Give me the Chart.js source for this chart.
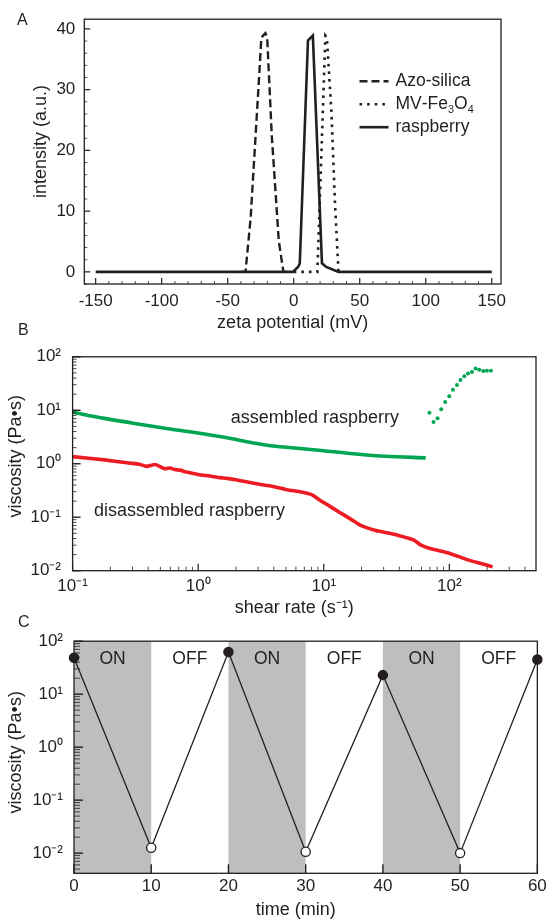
<!DOCTYPE html>
<html>
<head>
<meta charset="utf-8">
<script src="https://cdn.jsdelivr.net/npm/chart.js@4"></script>
<style>
  body { margin: 0; background: #fff; }
  #fig { position: relative; width: 550px; height: 919px; font-family: 'Liberation Sans', Arial, sans-serif; color: #231f20; }
  #fig canvas { position: absolute; left: 0; }
  .letter { position: absolute; font-size: 16px; line-height: 16px; }
</style>
</head>
<body>
<div id="fig">
  <canvas id="chartA" width="550" height="335" style="top:0px"></canvas>
  <canvas id="chartB" width="550" height="285" style="top:335px"></canvas>
  <canvas id="chartC" width="550" height="299" style="top:620px"></canvas>
  <div class="letter" style="left:17px;top:12px">A</div>
  <div class="letter" style="left:18px;top:322px">B</div>
  <div class="letter" style="left:18px;top:614px">C</div>
</div>
<script>
// panel A - zeta potential distributions
const zetaTicks = [-150, -100, -50, 0, 50, 100, 150];
const intensityTicks = [0, 10, 20, 30, 40];
const seriesNamesA = ['Azo-silica', 'MV-Fe3O4', 'raspberry'];
const azoZeta = [-40, -36.5, -32.6, -25.9, -24.5, -21.4, -20.1, -16.6, -11.3, -7.8, -5];
const azoIntensity = [0, 0, 8.9, 33.2, 38.6, 39.3, 38.6, 22.4, 5.1, 0, 0];
const mvZeta = [0, 17.9, 20.6, 24.0, 25.1, 28.6, 31.2, 33.9, 36];
const mvIntensity = [0, 0, 17.0, 38.9, 38.6, 26.2, 11.6, 0, 0];
const raspZeta = [-150, -0.7, 3.3, 4.6, 10.8, 14.5, 21.4, 24.6, 33.9, 150];
const raspIntensity = [0, 0, 0.8, 1.4, 38.1, 38.9, 1.4, 0.8, 0, 0];

// panel B - flow curves
const shearTicks = [0.1, 1, 10, 100];
const shearTickLabels = ['10⁻¹', '10⁰', '10¹', '10²'];
const viscTicks = [0.01, 0.1, 1, 10, 100];
const viscTickLabels = ['10⁻²', '10⁻¹', '10⁰', '10¹', '10²'];
const assembledRate = [0.1, 0.179, 0.341, 0.649, 1.0, 1.706, 2.68, 3.94, 6.19, 10.0, 16.3, 31.0, 64.9];
const assembledVisc = [9.2, 7.06, 5.49, 4.33, 3.77, 3.05, 2.48, 2.15, 1.95, 1.75, 1.56, 1.38, 1.29];
const assembledHighRate = [69.5, 74.8, 80.5, 86.1, 92.7, 99.8, 106.9, 115.0, 122.8, 131.5, 140.7, 151.4, 161.8, 173.0, 186.2, 199.4, 214.4];
const assembledHighVisc = [9.01, 6.04, 7.13, 10.5, 14.3, 18.3, 24.2, 29.8, 36.7, 43.4, 48.6, 52.0, 60.6, 57.4, 54.2, 55.1, 55.1];
const disassembledRate = [0.1, 0.179, 0.281, 0.34, 0.388, 0.456, 0.536, 0.6, 0.649, 0.72, 0.788, 1.0, 1.237, 1.5, 1.706, 2.0, 2.355, 3.25, 3.94, 5.1, 6.6, 8.01, 9.11, 11.05, 13.4, 16.3, 19.7, 25.5, 31.0, 40.1, 51.9, 59.0, 71.5, 98.7, 136.2, 188, 221];
const disassembledVisc = [1.36, 1.18, 1.03, 0.98, 0.895, 0.97, 0.811, 0.83, 0.778, 0.76, 0.705, 0.631, 0.589, 0.55, 0.533, 0.5, 0.464, 0.404, 0.377, 0.327, 0.297, 0.265, 0.215, 0.163, 0.123, 0.0933, 0.0705, 0.0573, 0.0519, 0.0452, 0.0377, 0.0305, 0.0258, 0.0215, 0.0163, 0.0132, 0.0118];

// panel C - switching cycles
const cycleTime = [0, 10, 20, 30, 40, 50, 60];
const cycleVisc = [48.6, 0.0126, 62.4, 0.0106, 22.9, 0.0100, 45.3];
const timeTicks = [0, 10, 20, 30, 40, 50, 60];
const onPeriods = [[0, 10], [20, 30], [40, 50]];
const phaseCentres = [5, 15, 25, 35, 45, 55];
const phaseLabels = ['ON', 'OFF', 'ON', 'OFF', 'ON', 'OFF'];

const TEXT = '#231f20';
const FONT = "'Liberation Sans', Arial, sans-serif";
const GREEN = '#00a651';
const RED = '#ed1c24';

Chart.defaults.font.family = FONT;
Chart.defaults.font.size = 17;
Chart.defaults.color = TEXT;
Chart.defaults.animation = false;

function points(xs, ys) { return xs.map((x, i) => ({ x: x, y: ys[i] })); }
function fixedBox(size) {
  return function (scale) {
    if (scale.isHorizontal()) scale.height = size; else scale.width = size;
  };
}
function useTicks(values) {
  return function (scale) { scale.ticks = values.map(v => ({ value: v })); };
}
function logMinors(from, to) {
  const out = [];
  for (let d = from; d <= to; d++) for (let m = 2; m <= 9; m++) out.push(m * Math.pow(10, d));
  return out;
}
function steps(a, b, step, skip) {
  const out = [];
  for (let v = a; v <= b; v += step) if (v % skip !== 0) out.push(v);
  return out;
}
// the titles in the figure sit a little off-centre; spaces nudge them
function axisTitle(text, pad) {
  return { display: true, text: text, color: TEXT, font: { size: 18, lineHeight: 1 }, padding: pad };
}

const framePlugin = {
  id: 'frame',
  afterDatasetsDraw(chart) {
    const { ctx, chartArea: a } = chart;
    ctx.save();
    ctx.strokeStyle = TEXT;
    ctx.lineWidth = 1.3;
    ctx.strokeRect(a.left, a.top, a.right - a.left, a.bottom - a.top);
    ctx.restore();
  }
};

const innerTicks = {
  id: 'innerTicks',
  afterDatasetsDraw(chart, args, opts) {
    const { ctx, chartArea: a, scales } = chart;
    ctx.save();
    ctx.strokeStyle = TEXT;
    (opts.marks || []).forEach(m => {
      const s = scales[m.axis];
      ctx.lineWidth = m.width;
      m.values.forEach(v => {
        const p = s.getPixelForValue(v);
        ctx.beginPath();
        if (m.axis === 'x') {
          if (p < a.left || p > a.right) return;
          ctx.moveTo(p, a.bottom); ctx.lineTo(p, a.bottom - m.len);
        } else {
          if (p < a.top || p > a.bottom) return;
          ctx.moveTo(a.left, p); ctx.lineTo(a.left + m.len, p);
        }
        ctx.stroke();
      });
    });
    ctx.restore();
  }
};

const textMarks = {
  id: 'textMarks',
  afterDatasetsDraw(chart, args, opts) {
    const { ctx, chartArea: a, scales } = chart;
    ctx.save();
    ctx.fillStyle = TEXT;
    ctx.textAlign = 'center';
    ctx.textBaseline = 'middle';
    ctx.font = opts.size + 'px ' + FONT;
    (opts.items || []).forEach(t => {
      const x = scales.x.getPixelForValue(t.x);
      const y = t.y !== undefined ? scales.y.getPixelForValue(t.y) : a.top + t.dy;
      ctx.fillText(t.text, x, y);
    });
    ctx.restore();
  }
};

// draws text where digits become subscripts (Fe3O4)
function drawChem(ctx, text, x, y, size) {
  ctx.textAlign = 'left';
  ctx.textBaseline = 'middle';
  for (const ch of text) {
    const sub = /[0-9]/.test(ch);
    ctx.font = (sub ? size * 0.62 : size) + 'px ' + FONT;
    ctx.fillText(ch, x, sub ? y + size * 0.32 : y);
    x += ctx.measureText(ch).width;
  }
}

const zetaLegend = {
  id: 'zetaLegend',
  afterDatasetsDraw(chart) {
    const { ctx, chartArea: a } = chart;
    ctx.save();
    ctx.fillStyle = TEXT;
    chart.data.datasets.forEach((ds, i) => {
      const y = a.top + 62 + i * 23;
      ctx.strokeStyle = ds.borderColor;
      ctx.lineWidth = ds.borderWidth;
      ctx.setLineDash(ds.borderDash || []);
      ctx.beginPath();
      ctx.moveTo(a.right - 141.5, y);
      ctx.lineTo(a.right - 112.5, y);
      ctx.stroke();
      drawChem(ctx, ds.label, a.right - 105.5, y, 17.5);
    });
    ctx.restore();
  }
};

const bands = {
  id: 'bands',
  beforeDatasetsDraw(chart) {
    const { ctx, chartArea: a, scales } = chart;
    ctx.save();
    ctx.fillStyle = '#bcbec0';
    onPeriods.forEach(([t0, t1]) => {
      const x0 = scales.x.getPixelForValue(t0);
      const x1 = scales.x.getPixelForValue(t1);
      ctx.fillRect(x0, a.top, x1 - x0, a.bottom - a.top);
    });
    ctx.restore();
  }
};

const common = {
  responsive: false,
  events: [],
  plugins: { legend: { display: false }, tooltip: { enabled: false } }
};

// ---- A ----
new Chart(document.getElementById('chartA'), {
  type: 'line',
  data: {
    datasets: [
      { label: seriesNamesA[0], data: points(azoZeta, azoIntensity), borderColor: TEXT, borderWidth: 2.4, borderDash: [8, 4], pointRadius: 0, tension: 0 },
      { label: seriesNamesA[1], data: points(mvZeta, mvIntensity), borderColor: TEXT, borderWidth: 2.6, borderDash: [2.6, 5], pointRadius: 0, tension: 0 },
      { label: seriesNamesA[2], data: points(raspZeta, raspIntensity), borderColor: TEXT, borderWidth: 2.6, pointRadius: 0, tension: 0 }
    ]
  },
  options: Object.assign({}, common, {
    layout: { padding: { left: 0, right: 49, top: 15, bottom: 0 } },
    scales: {
      x: {
        type: 'linear', min: -158.6, max: 157,
        afterBuildTicks: useTicks(zetaTicks), afterFit: fixedBox(51),
        grid: { display: false, drawTicks: false }, border: { display: false },
        ticks: { padding: 6.8 },
        title: axisTitle('zeta potential (mV)', { top: 0, bottom: 3 })
      },
      y: {
        type: 'linear', min: -2, max: 41.6,
        afterBuildTicks: useTicks(intensityTicks), afterFit: fixedBox(84.3),
        grid: { display: false, drawTicks: false }, border: { display: false },
        ticks: { padding: 9 },
        title: axisTitle('    intensity (a.u.)', { top: 32.4, bottom: 0 })
      }
    },
    plugins: Object.assign({}, common.plugins, {
      innerTicks: { marks: [
        { axis: 'x', values: zetaTicks, len: 6, width: 1.2 },
        { axis: 'x', values: steps(-150, 150, 10, 50), len: 3, width: 0.8 },
        { axis: 'y', values: intensityTicks, len: 6, width: 1.2 },
        { axis: 'y', values: steps(-2, 40, 2, 10), len: 3, width: 0.8 }
      ] }
    })
  }),
  plugins: [innerTicks, framePlugin, zetaLegend]
});

// ---- B ----
new Chart(document.getElementById('chartB'), {
  type: 'line',
  data: {
    datasets: [
      { label: 'assembled raspberry', data: points(assembledRate, assembledVisc), borderColor: GREEN, borderWidth: 3.6, pointRadius: 0, tension: 0.3 },
      { label: 'assembled raspberry (high shear)', data: points(assembledHighRate, assembledHighVisc), showLine: false, pointRadius: 2, pointBorderWidth: 0, pointBackgroundColor: GREEN, borderColor: GREEN },
      { label: 'disassembled raspberry', data: points(disassembledRate, disassembledVisc), borderColor: RED, borderWidth: 3.6, pointRadius: 0, tension: 0.2 }
    ]
  },
  options: Object.assign({}, common, {
    layout: { padding: { left: 0, right: 14, top: 15, bottom: 0 } },
    scales: {
      x: {
        type: 'logarithmic', min: 0.1, max: 490,
        afterBuildTicks: useTicks(shearTicks), afterFit: fixedBox(49.3),
        grid: { display: false, drawTicks: false }, border: { display: false },
        ticks: { padding: 5.8, callback: (v, i) => shearTickLabels[i] },
        title: axisTitle('shear rate (s⁻¹)    ', { top: 0, bottom: 3.3 })
      },
      y: {
        type: 'logarithmic', min: 0.01, max: 100,
        afterBuildTicks: useTicks(viscTicks), afterFit: fixedBox(72.6),
        grid: { display: false, drawTicks: false }, border: { display: false },
        ticks: { padding: 11.6, callback: (v, i) => viscTickLabels[i] },
        title: axisTitle('   viscosity (Pa•s)', { top: 6.8, bottom: 0 })
      }
    },
    plugins: Object.assign({}, common.plugins, {
      innerTicks: { marks: [
        { axis: 'x', values: shearTicks, len: 7, width: 1.2 },
        { axis: 'x', values: logMinors(-1, 2), len: 4, width: 0.8 },
        { axis: 'y', values: viscTicks, len: 8, width: 1.4 },
        { axis: 'y', values: logMinors(-2, 1), len: 4, width: 0.8 }
      ] },
      textMarks: { size: 18, items: [
        { text: 'assembled raspberry', x: 8.5, y: 7.2 },
        { text: 'disassembled raspberry', x: 0.854, y: 0.13 }
      ] }
    })
  }),
  plugins: [innerTicks, framePlugin, textMarks]
});

// ---- C ----
new Chart(document.getElementById('chartC'), {
  type: 'line',
  data: {
    datasets: [{
      label: 'viscosity',
      data: points(cycleTime, cycleVisc),
      borderColor: TEXT, borderWidth: 1.3, tension: 0,
      pointRadius: 4.6, pointBorderWidth: 1.3, pointBorderColor: TEXT,
      pointBackgroundColor: ctx => (ctx.dataIndex % 2 ? '#ffffff' : TEXT)
    }]
  },
  options: Object.assign({}, common, {
    clip: false,
    layout: { padding: { left: 0, right: 11.7, top: 11.7, bottom: 0 } },
    scales: {
      x: {
        type: 'linear', min: 0, max: 60,
        afterBuildTicks: useTicks(timeTicks), afterFit: fixedBox(45.7),
        grid: { display: false, drawTicks: false }, border: { display: false },
        ticks: { padding: 3.2 },
        title: axisTitle('time (min)    ', { top: 0, bottom: 0 })
      },
      y: {
        type: 'logarithmic', min: 0.00416, max: 100,
        afterBuildTicks: useTicks(viscTicks), afterFit: fixedBox(74),
        grid: { display: false, drawTicks: false }, border: { display: false },
        ticks: { padding: 11, callback: (v, i) => viscTickLabels[i] },
        title: axisTitle('  viscosity (Pa•s)', { top: 6.8, bottom: 0 })
      }
    },
    plugins: Object.assign({}, common.plugins, {
      innerTicks: { marks: [
        { axis: 'x', values: timeTicks, len: 9, width: 1.4 },
        { axis: 'y', values: viscTicks, len: 9, width: 1.4 },
        { axis: 'y', values: logMinors(-3, 1), len: 6, width: 0.8 }
      ] },
      textMarks: { size: 17.5, items: phaseLabels.map((t, i) => ({ text: t, x: phaseCentres[i], dy: 18.3 })) }
    })
  }),
  plugins: [bands, innerTicks, framePlugin, textMarks]
});
</script>
</body>
</html>
